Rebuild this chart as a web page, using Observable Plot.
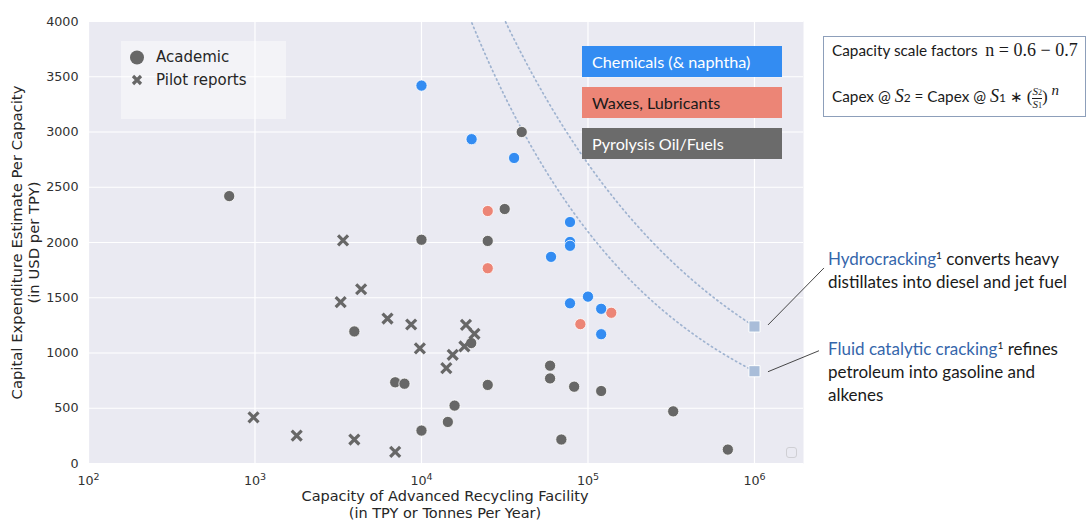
<!DOCTYPE html>
<html><head><meta charset="utf-8">
<script src="https://cdn.jsdelivr.net/npm/d3@7"></script>
<script src="https://cdn.jsdelivr.net/npm/@observablehq/plot@0.6"></script>
<style>
html,body{margin:0;padding:0;background:#fff;overflow:hidden}
#wrap{position:relative;width:1086px;height:523px;font-family:"DejaVu Sans",sans-serif;color:#262626}
#wrap svg{position:absolute;left:0;top:0}
.abs{position:absolute;white-space:nowrap}
.cal{font-family:Lato,"Open Sans",sans-serif}
.cat{position:absolute;left:582px;width:200px;height:31px;line-height:31px;padding-left:10px;box-sizing:border-box;font-size:16.2px}
.sup{font-size:0.6em;vertical-align:0.55em}
.m{font-family:'Liberation Serif',serif}
</style></head><body><div id="wrap"></div>
<script>
// ---------- data ----------
const chemX = [10000, 20000, 36000, 78000, 78000, 78000, 60000, 100000, 78000, 120000, 120000];
const chemY = [3420, 2935, 2765, 2185, 2005, 1970, 1870, 1510, 1450, 1400, 1170];
const waxX = [25000, 25000, 138000, 90000];
const waxY = [2285, 1767, 1364, 1261];
const fuelX = [700, 10000, 25000, 31600, 40000, 3950, 6950, 7900, 25000, 15800, 14400, 10000, 19900, 59200, 59200, 82600, 120000, 69200, 325000, 692000];
const fuelY = [2420, 2025, 2014, 2303, 3000, 1195, 735, 722, 711, 524, 376, 298, 1090, 885, 770, 695, 656, 217, 472, 126];
const pilotX = [980, 1780, 3950, 6950, 3380, 4340, 3270, 6250, 8670, 18500, 20800, 9780, 18100, 15400, 14100];
const pilotY = [418, 253, 217, 105, 2020, 1577, 1460, 1312, 1258, 1255, 1174, 1041, 1059, 984, 864];
const benchNames = ["Hydrocracking", "Fluid catalytic cracking"];
const benchX = [1e6, 1e6];
const benchY = [1240, 835];
const benchN = [0.66, 0.6];           // capacity scale factor of each reference curve
const xTicks = [1e2, 1e3, 1e4, 1e5, 1e6];
const yTicks = [0, 500, 1000, 1500, 2000, 2500, 3000, 3500, 4000];
const categories = ["Chemicals (& naphtha)", "Waxes, Lubricants", "Pyrolysis Oil/Fuels"];
const markerLabels = ["Academic", "Pilot reports"];

// ---------- build tables ----------
const zip = (xs, ys, extra) => xs.map((x, i) => ({x, y: ys[i], ...extra}));
const chem = zip(chemX, chemY);
const wax = zip(waxX, waxY);
const fuel = zip(fuelX, fuelY);
const pilot = zip(pilotX, pilotY);
const bench = benchX.map((x, i) => ({x, y: benchY[i], name: benchNames[i], n: benchN[i]}));
// Capex per capacity scales as S^(n-1): curves drawn through each reference point
const curves = [];
bench.forEach((b, i) => {
  d3.range(0, 201).forEach(k => {
    const x = 10 ** (4 + 2 * k / 200);
    curves.push({curve: i, x, y: b.y * (x / b.x) ** (b.n - 1)});
  });
});

const C = {blue: "#338cf2", red: "#ec8576", gray: "#676767", bench: "#a9bdd9", curve: "#9fb3d0"};

// leader line offsets (pixels, relative to each reference square) to the notes
const leaderEnds = [{dx1: 14, dy1: -1, dx2: 70, dy2: -58}, {dx1: 14, dy1: 1, dx2: 65, dy2: -20}];
function leaders(index, scales) {
  const g = d3.create("svg:g");
  bench.forEach((b, i) => {
    const px = scales.x(b.x), py = scales.y(b.y), o = leaderEnds[i];
    g.append("line").attr("x1", px + o.dx1).attr("y1", py + o.dy1)
      .attr("x2", px + o.dx2).attr("y2", py + o.dy2)
      .attr("stroke", "#333").attr("stroke-width", 0.9);
  });
  return g.node();
}

const plot = Plot.plot({
  width: 1086, height: 523,
  marginLeft: 88, marginRight: 283, marginTop: 21, marginBottom: 60,
  style: {fontFamily: "DejaVu Sans, sans-serif", fontSize: "12.7px", color: "#303030", background: "transparent", overflow: "visible"},
  x: {type: "log", domain: [100, 1.97e6], ticks: xTicks, tickFormat: d => "10^" + Math.round(Math.log10(d)), tickSize: 0, tickPadding: 12, label: null},
  y: {domain: [0, 4000], ticks: yTicks, tickFormat: d => String(d), tickSize: 0, tickPadding: 10, label: null},
  marks: [
    Plot.frame({fill: "#eaeaf2", stroke: null}),
    Plot.ruleX(xTicks, {stroke: "white", strokeWidth: 1.2}),
    Plot.ruleY(yTicks, {stroke: "white", strokeWidth: 1.2}),
    Plot.line(curves, {x: "x", y: "y", z: "curve", stroke: C.curve, strokeWidth: 1.7, strokeDasharray: "1.3,3.4", clip: true}),
    Plot.dot(fuel, {x: "x", y: "y", r: 5.6, fill: C.gray, stroke: "white", strokeWidth: 0.8}),
    Plot.dot(pilot, {x: "x", y: "y", symbol: "times", r: 4.6, stroke: C.gray, strokeWidth: 3.2}),
    Plot.dot(wax, {x: "x", y: "y", r: 5.6, fill: C.red, stroke: "white", strokeWidth: 0.8}),
    Plot.dot(chem, {x: "x", y: "y", r: 5.6, fill: C.blue, stroke: "white", strokeWidth: 0.8}),
    Plot.dot(bench, {x: "x", y: "y", symbol: "square", r: 6.3, fill: C.bench, stroke: "white", strokeWidth: 1}),
    leaders
  ]
});
// turn "10^k" tick labels into 10 with a raised exponent
d3.select(plot).selectAll("text").each(function () {
  const m = /^10\^(\d)$/.exec(this.textContent);
  if (!m) return;
  const s = d3.select(this);
  s.text(null);
  s.append("tspan").text("10");
  s.append("tspan").attr("font-size", "9.5px").attr("dy", "-0.5em").text(m[1]);
});
const wrap = document.getElementById("wrap");
wrap.appendChild(plot);

// ---------- overlays (legends, labels, notes) ----------
function add(html) { wrap.insertAdjacentHTML("beforeend", html); }
// marker legend
add(`<div class="abs" style="left:121px;top:41px;width:165px;height:78px;background:rgba(255,255,255,0.42)"></div>`);
add(`<svg class="abs" style="left:129px;top:49px" width="18" height="40">
  <circle cx="8" cy="8.5" r="7" fill="${C.gray}"/>
  <path d="M4,27 L12,35 M12,27 L4,35" stroke="${C.gray}" stroke-width="3.2"/></svg>`);
add(`<div class="abs" style="left:156px;top:48px;font-size:15px;color:#262626">${markerLabels[0]}</div>`);
add(`<div class="abs" style="left:156px;top:71px;font-size:15px;color:#262626">${markerLabels[1]}</div>`);
// category boxes
add(`<div class="cat cal" style="top:46px;background:${C.blue};color:white">${categories[0]}</div>`);
add(`<div class="cat cal" style="top:87px;background:${C.red};color:#1a1a1a">${categories[1]}</div>`);
add(`<div class="cat cal" style="top:128px;background:#6b6b6b;color:white">${categories[2]}</div>`);
// axis labels
add(`<div class="abs" style="left:245px;width:400px;top:488px;text-align:center;font-size:14.5px;line-height:16.5px;color:#262626">Capacity of Advanced Recycling Facility<br>(in TPY or Tonnes Per Year)</div>`);
add(`<div class="abs" style="left:-175px;width:400px;top:226px;text-align:center;font-size:14.8px;line-height:16.5px;color:#262626;transform:rotate(-90deg)">Capital Expenditure Estimate Per Capacity<br>(in USD per TPY)</div>`);
// small empty marker in corner
add(`<div class="abs" style="left:786px;top:447px;width:9px;height:9px;border:1.5px solid #cfcfd4;border-radius:3px"></div>`);
// formula box
add(`<div class="abs" style="left:823px;top:36px;width:263px;height:81px;border:1.5px solid #8d9fba;box-sizing:border-box;background:white"></div>`);
add(`<div class="abs cal" style="left:832px;top:40px;font-size:15.3px;color:#1a1a1a">Capacity scale factors&nbsp; <span class="m" style="font-size:18px">n = 0.6 − 0.7</span></div>`);
add(`<div class="abs cal" style="left:832px;top:82px;font-size:15.3px;color:#1a1a1a">Capex @ <i class="m" style="font-size:18px">S</i><span style="font-size:12px">2</span> = Capex @ <i class="m" style="font-size:18px">S</i><span style="font-size:12px">1</span> <span class="m">∗</span> <span class="m" style="font-size:17px">(</span><span class="m" style="display:inline-block;vertical-align:middle;text-align:center;font-size:11px;line-height:11px"><i>S</i><span style="font-size:8px">2</span><br><span style="border-top:1px solid #1a1a1a;display:inline-block"><i>S</i><span style="font-size:8px">1</span></span></span><span class="m" style="font-size:17px">)</span> <i class="m" style="font-size:15px;vertical-align:7px">n</i></div>`);
// notes
add(`<div class="abs cal" style="left:828px;top:244px;font-size:17px;line-height:23px;color:#1a1a1a"><span style="color:#3566ab">${benchNames[0]}</span><span class="sup">1</span> converts heavy<br>distillates into diesel and jet fuel</div>`);
add(`<div class="abs cal" style="left:828px;top:334px;font-size:17px;line-height:23px;color:#1a1a1a"><span style="color:#3566ab">${benchNames[1]}</span><span class="sup">1</span> refines<br>petroleum into gasoline and<br>alkenes</div>`);
</script></body></html>
